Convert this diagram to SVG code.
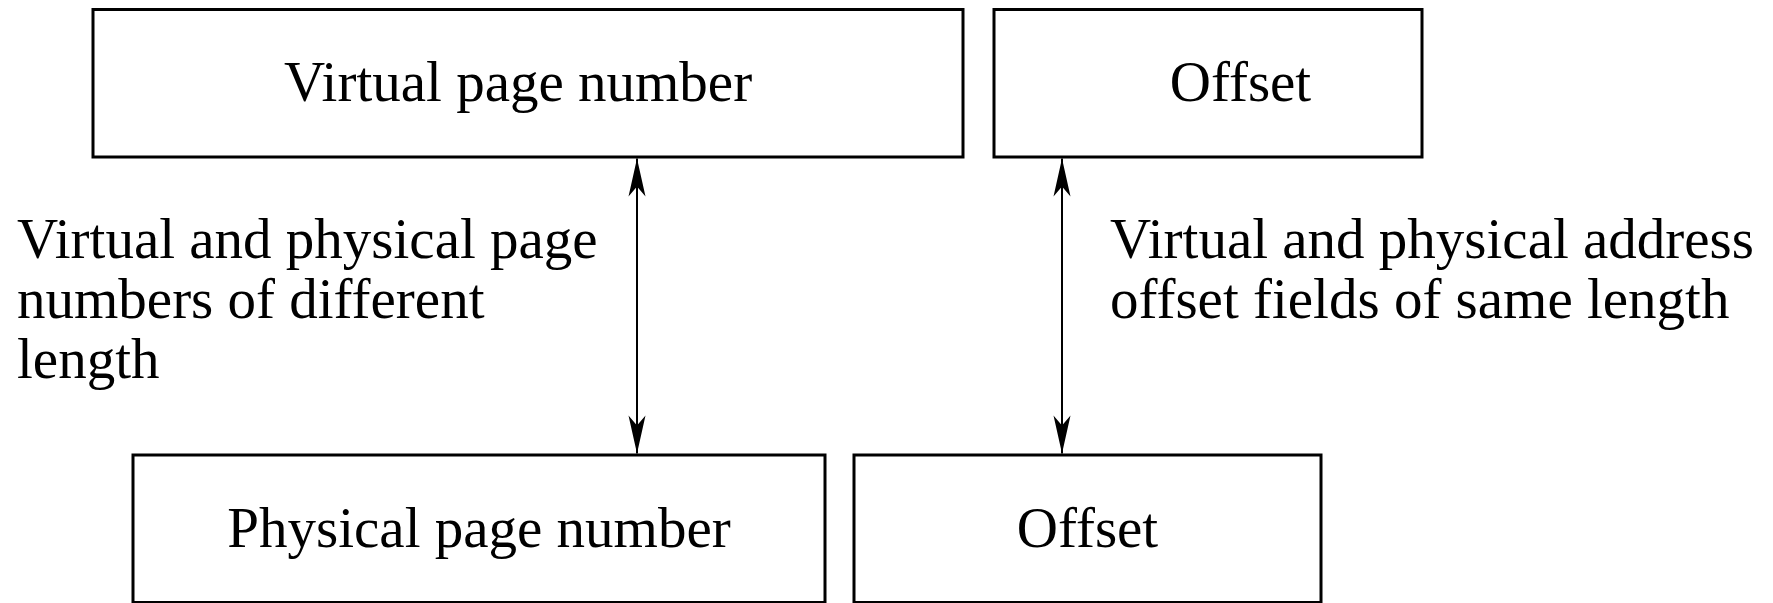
<svg xmlns="http://www.w3.org/2000/svg" width="1773" height="603" viewBox="0 0 1773 603">
  <style>
    .box { fill: #ffffff; stroke: #000000; stroke-width: 3; }
    .label { font-family: "Liberation Serif", "Times New Roman", serif; font-size: 57px; fill: #000000; }
    .mid { text-anchor: middle; }
    .link { stroke: #000000; stroke-width: 2; fill: none; }
  </style>
  <defs>
    <marker id="head" viewBox="-40 -10 42 20" refX="0" refY="0" markerWidth="42" markerHeight="20" markerUnits="userSpaceOnUse" orient="auto-start-reverse">
      <path d="M0,0 L-38,-8.5 L-28,0 L-38,8.5 Z" fill="#000000"/>
    </marker>
  </defs>
  <rect width="1773" height="603" fill="#ffffff"/>

  <g id="virtual-page-number">
    <rect class="box" x="93" y="9.5" width="870" height="147.5"/>
    <text class="label mid" x="518" y="101">Virtual page number</text>
  </g>
  <g id="virtual-offset">
    <rect class="box" x="994" y="9.5" width="428" height="147.5"/>
    <text class="label mid" x="1240.5" y="101">Offset</text>
  </g>
  <g id="physical-page-number">
    <rect class="box" x="133" y="455" width="692" height="147.5"/>
    <text class="label mid" x="479" y="547">Physical page number</text>
  </g>
  <g id="physical-offset">
    <rect class="box" x="854" y="455" width="467" height="147.5"/>
    <text class="label mid" x="1087.5" y="547">Offset</text>
  </g>

  <g id="connectors">
    <line class="link" x1="637" y1="158.5" x2="637" y2="453.5" marker-start="url(#head)" marker-end="url(#head)"/>
    <line class="link" x1="1062" y1="158.5" x2="1062" y2="453.5" marker-start="url(#head)" marker-end="url(#head)"/>
  </g>

  <g id="page-number-note">
    <text class="label" x="17" y="258">Virtual and physical page</text>
    <text class="label" x="17" y="318">numbers of different</text>
    <text class="label" x="17" y="378">length</text>
  </g>
  <g id="offset-note">
    <text class="label" x="1110" y="258">Virtual and physical address</text>
    <text class="label" x="1110" y="318">offset fields of same length</text>
  </g>
</svg>
